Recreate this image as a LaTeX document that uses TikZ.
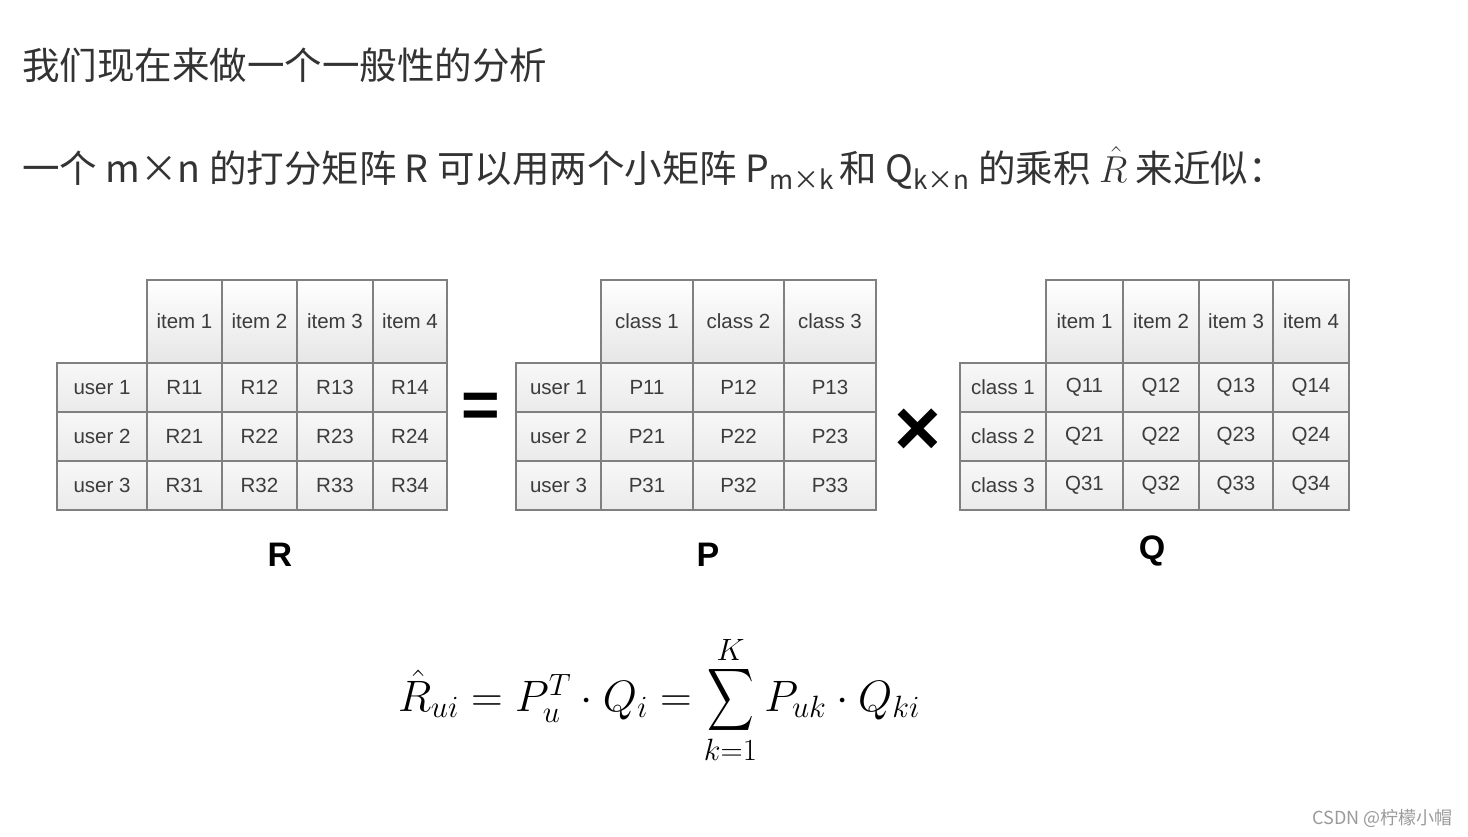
\RequirePackage{fix-cm}
\documentclass[tikz,border=0pt]{standalone}
\usepackage{amsmath}
\usepackage{fontspec}
\setmainfont{Liberation Sans}
\newfontfamily\cjk{Noto Sans CJK SC}
\newfontfamily\arial{Liberation Sans}
\definecolor{txt}{HTML}{333333}
\definecolor{cellline}{HTML}{808080}
\definecolor{celltxt}{HTML}{3C3C3C}
\definecolor{cellbot}{HTML}{E6E6E6}
\definecolor{wmark}{HTML}{9A9A9A}
\newcommand{\bigsumop}{\mathop{\vcenter{\hbox{\scalebox{1.3}[1.75]{$\displaystyle\sum$}}}}\limits}
\begin{document}
\begin{tikzpicture}[x=1pt,y=-1pt,
  cell/.style={draw=cellline, line width=1.3pt, rectangle, inner sep=0pt, outer sep=0pt,
    top color=white, bottom color=cellbot, anchor=north west, text=celltxt,
    font=\arial\fontsize{20.5}{24}\selectfont},
  body/.style={cell, top color=white!97!black, bottom color=white!92!black},
  big/.style={font=\arial\bfseries\fontsize{34}{38}\selectfont, text=black, inner sep=0pt},
  line/.style={anchor=base west, inner sep=0pt, text=txt, font=\cjk\fontsize{37.5}{42}\selectfont}
]
\useasboundingbox (0,0) rectangle (1468,836);
\fill[white] (0,0) rectangle (1468,836);

% heading lines
\node[line] (l1) at (22,79) {我们现在来做一个一般性的分析};
\node[line] (l2) at (22,182) {一个 m×n 的打分矩阵 R 可以用两个小矩阵 P{\fontsize{26}{28}\selectfont\raisebox{-7pt}{m×k}}\hspace{6pt}和 Q{\fontsize{26}{28}\selectfont\raisebox{-7pt}{k×n}} 的乘积 $\hat{R}$ 来近似：};

% ---------- R table ----------
\foreach \i/\xa/\xb in {1/147/222,2/222/297,3/297/373,4/373/447}{
  \node[cell, minimum width={(\xb-\xa)*1pt}, minimum height=83pt] (R-h\i) at (\xa,280) {item \i};
}
\foreach \r/\ya/\yb in {1/363/412,2/412/461,3/461/510}{
  \node[body, minimum width=90pt, minimum height={(\yb-\ya)*1pt}] (R-u\r) at (57,\ya) {user \r};
  \foreach \i/\xa/\xb in {1/147/222,2/222/297,3/297/373,4/373/447}{
    \node[body, minimum width={(\xb-\xa)*1pt}, minimum height={(\yb-\ya)*1pt}] (R-\r\i) at (\xa,\ya) {R\r\i};
  }
}
\node[big] (R-name) at (280,555) {R};

% ---------- P table ----------
\foreach \i/\xa/\xb in {1/601/693,2/693/784,3/784/876}{
  \node[cell, minimum width={(\xb-\xa)*1pt}, minimum height=83pt] (P-h\i) at (\xa,280) {class \i};
}
\foreach \r/\ya/\yb in {1/363/412,2/412/461,3/461/510}{
  \node[body, minimum width=85pt, minimum height={(\yb-\ya)*1pt}] (P-u\r) at (516,\ya) {user \r};
  \foreach \i/\xa/\xb in {1/601/693,2/693/784,3/784/876}{
    \node[body, minimum width={(\xb-\xa)*1pt}, minimum height={(\yb-\ya)*1pt}] (P-\r\i) at (\xa,\ya) {P\r\i};
  }
}
\node[big] (P-name) at (708,555) {P};

% ---------- Q table ----------
\foreach \i/\xa/\xb in {1/1046/1123,2/1123/1199,3/1199/1273,4/1273/1349}{
  \node[cell, minimum width={(\xb-\xa)*1pt}, minimum height=83pt] (Q-h\i) at (\xa,280) {item \i};
}
\foreach \r/\ya/\yb in {1/363/412,2/412/461,3/461/510}{
  \node[body, minimum width=86pt, minimum height={(\yb-\ya)*1pt}] (Q-c\r) at (960,\ya) {class \r};
  \foreach \i/\xa/\xb in {1/1046/1123,2/1123/1199,3/1199/1273,4/1273/1349}{
    \node[body, minimum width={(\xb-\xa)*1pt}, minimum height={(\yb-\ya)*1pt}] (Q-\r\i) at (\xa,\ya) {Q\r\i};
  }
}
\node[big] (Q-name) at (1152,551) {Q};

% operators
\node[font=\arial\bfseries\fontsize{66}{70}\selectfont, inner sep=0pt] (eq) at (481,410) {=};
\node[font=\arial\bfseries\fontsize{80}{84}\selectfont, inner sep=0pt] (times) at (918,432) {×};

% formula
\node[inner sep=0pt, font=\fontsize{44}{50}\selectfont] (formula) at (659,700)
  {$\hat{R}_{ui} = P_u^T \cdot Q_i = \bigsumop_{k=1}^{K} P_{uk}\cdot Q_{ki}$};

% watermark
\node[anchor=base east, inner sep=0pt, text=wmark, font=\cjk\fontsize{18}{20}\selectfont] (wm) at (1453,824) {CSDN @柠檬小帽};
\end{tikzpicture}
\end{document}
